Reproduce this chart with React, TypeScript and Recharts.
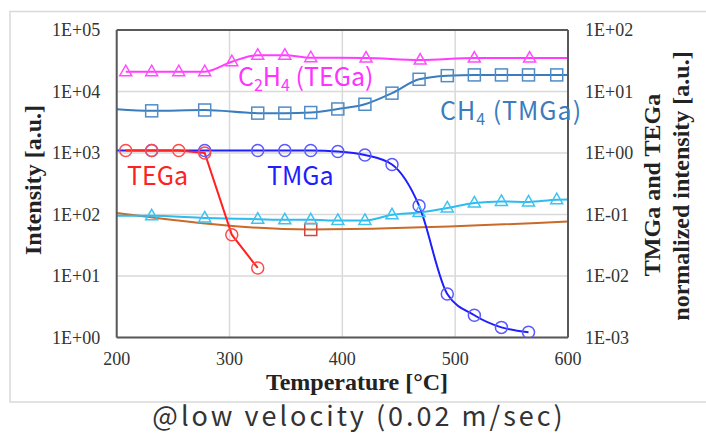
import React from 'react';
import { LineChart, Line, XAxis, YAxis, CartesianGrid, ReferenceLine } from 'recharts';

// ---- data (temperatures in °C) ----
const c2h4Temps = [208, 231, 255, 278, 302, 325, 349, 372, 421, 469, 517, 566, 600];
const c2h4Values = [21000, 21000, 21000, 21000, 30500, 39000, 39000, 35500, 35000, 32500, 35000, 35000, 35000];

const ch4Temps = [200, 231, 278, 325, 349, 372, 396, 420, 444, 468, 493, 517, 541, 565, 590, 600];
const ch4Values = [5150, 4850, 5000, 4450, 4450, 4550, 5200, 6200, 9400, 15800, 18100, 18600, 18600, 18600, 18600, 18600];

const lightTemps = [200, 231, 278, 325, 349, 372, 396, 420, 444, 468, 493, 517, 541, 565, 590, 600];
const lightValues = [95, 95, 88, 84, 82, 82, 80, 80, 99, 108, 128, 154, 163, 160, 174, 175];

const orangeTemps = [200, 372, 600];
const orangeValues = [106, 57, 77];

// normalized intensities (right axis)
const tegaTemps = [208, 231, 255, 278, 302, 325];
const tegaValues = [1.1, 1.1, 1.1, 1.0, 0.047, 0.0135];

const tmgaTemps = [200, 231, 278, 325, 349, 372, 396, 420, 444, 468, 493, 517, 541, 565];
const tmgaValues = [1.1, 1.1, 1.1, 1.1, 1.1, 1.1, 1.06, 0.93, 0.65, 0.139, 0.0051, 0.0023, 0.00146, 0.00122];

const xTicks = [200, 300, 400, 500, 600];
const leftTicks = [1, 10, 100, 1000, 10000, 100000];
const rightTicks = [0.001, 0.01, 0.1, 1, 10, 100];

const rows = (xs: number[], ys: number[]) => xs.map((t, i) => ({ t, v: ys[i] }));

const fmtE = (v: number) => {
  const e = Math.round(Math.log10(v));
  return '1E' + (e < 0 ? '-' : '+') + String(Math.abs(e)).padStart(2, '0');
};

type Shape = 'circle' | 'square' | 'triangle';

const makeDot = (shape: Shape, color: string, show: (t: number) => boolean) => (props: any) => {
  const { cx, cy, payload, index } = props;
  const key = `dot-${shape}-${color}-${index}`;
  if (cx == null || cy == null || !show(payload.t)) return <g key={key} />;
  if (shape === 'circle') {
    return <circle key={key} cx={cx} cy={cy} r={6} fill="none" stroke={color} strokeWidth={1.5} />;
  }
  if (shape === 'square') {
    return <rect key={key} x={cx - 6} y={cy - 6} width={12} height={12} fill="none" stroke={color} strokeWidth={1.5} />;
  }
  const h = 10.5;
  const w = 12;
  return (
    <path
      key={key}
      d={`M${cx},${cy - h * 0.62} L${cx + w / 2},${cy + h * 0.38} L${cx - w / 2},${cy + h * 0.38} Z`}
      fill="none"
      stroke={color}
      strokeWidth={1.5}
    />
  );
};

const inner = (t: number) => t > 200 && t < 600;

const serif = '"Liberation Serif", "Times New Roman", serif';
const sans = '"Noto Sans CJK JP", "Noto Sans", sans-serif';

export default function App() {
  const tickStyle = { fontSize: 18, fill: '#333', fontFamily: serif };
  return (
    <div style={{ position: 'fixed', left: 0, top: 0, width: 706, height: 438, background: '#fff' }}>
      <LineChart width={706} height={438} margin={{ top: 30, right: 0, bottom: 70.5, left: 0 }}>
        <CartesianGrid yAxisId="left" stroke="#d9d9d9" strokeWidth={1.5} horizontalValues={leftTicks} verticalValues={xTicks} />
        <XAxis
          dataKey="t"
          type="number"
          domain={[200, 600]}
          ticks={xTicks}
          allowDataOverflow
          height={30}
          tickLine={false}
          tickSize={0}
          tickMargin={15}
          axisLine={{ stroke: '#595959', strokeWidth: 2 }}
          tick={tickStyle}
        />
        <YAxis
          yAxisId="left"
          scale="log"
          type="number"
          domain={[1, 100000]}
          ticks={leftTicks}
          allowDataOverflow
          width={116.7}
          tickLine={false}
          tickSize={0}
          tickMargin={16.5}
          tickFormatter={fmtE}
          axisLine={{ stroke: '#595959', strokeWidth: 2 }}
          tick={tickStyle}
        />
        <YAxis
          yAxisId="right"
          orientation="right"
          scale="log"
          type="number"
          domain={[0.001, 100]}
          ticks={rightTicks}
          allowDataOverflow
          width={138}
          tickLine={false}
          tickSize={0}
          tickMargin={17}
          tickFormatter={fmtE}
          axisLine={{ stroke: '#595959', strokeWidth: 2 }}
          tick={tickStyle}
        />
        <ReferenceLine yAxisId="left" y={100000} stroke="#595959" strokeWidth={2} />

        <Line
          yAxisId="left"
          data={rows(orangeTemps, orangeValues)}
          dataKey="v"
          type="monotone"
          stroke="#c96a2a"
          strokeWidth={2}
          dot={makeDot('square', '#d0453f', (t) => t === 372)}
          isAnimationActive={false}
        />
        <Line
          yAxisId="left"
          data={rows(lightTemps, lightValues)}
          dataKey="v"
          type="monotone"
          stroke="#2ebcef"
          strokeWidth={2}
          dot={makeDot('triangle', '#3cc3f2', inner)}
          isAnimationActive={false}
        />
        <Line
          yAxisId="left"
          data={rows(ch4Temps, ch4Values)}
          dataKey="v"
          type="monotone"
          stroke="#3a7cbd"
          strokeWidth={2}
          dot={makeDot('square', '#4f8dc8', inner)}
          isAnimationActive={false}
        />
        <Line
          yAxisId="left"
          data={rows(c2h4Temps, c2h4Values)}
          dataKey="v"
          type="monotone"
          stroke="#ff3cff"
          strokeWidth={2}
          dot={makeDot('triangle', '#ff4dff', inner)}
          isAnimationActive={false}
        />
        <Line
          yAxisId="right"
          data={rows(tmgaTemps, tmgaValues)}
          dataKey="v"
          type="monotone"
          stroke="#1e1eff"
          strokeWidth={2}
          dot={makeDot('circle', '#5a5aff', inner)}
          isAnimationActive={false}
        />
        <Line
          yAxisId="right"
          data={rows(tegaTemps, tegaValues)}
          dataKey="v"
          type="linear"
          stroke="#ff2222"
          strokeWidth={2}
          dot={makeDot('circle', '#ff4a4a', () => true)}
          isAnimationActive={false}
        />
      </LineChart>

      <svg width={706} height={438} style={{ position: 'absolute', left: 0, top: 0, pointerEvents: 'none' }}>
        <rect x={10} y={11.5} width={720} height={390.5} fill="none" stroke="#d9d9d9" strokeWidth={1.5} />

        <text x={41} y={180} transform="rotate(-90 41 180)" textAnchor="middle" fontFamily={serif} fontWeight="bold" fontSize={24} fill="#222">
          Intensity [a.u.]
        </text>
        <text x={660} y={185} transform="rotate(-90 660 185)" textAnchor="middle" fontFamily={serif} fontWeight="bold" fontSize={24} fill="#222">
          TMGa and TEGa
        </text>
        <text x={689} y={186} transform="rotate(-90 689 186)" textAnchor="middle" fontFamily={serif} fontWeight="bold" fontSize={24} fill="#222">
          normalized intensity [a.u.]
        </text>
        <text x={357} y={390} textAnchor="middle" fontFamily={serif} fontWeight="bold" fontSize={24} fill="#222">
          Temperature [°C]
        </text>

        <text x={238} y={86} fontFamily={sans} fontSize={25} fill="#ff33ff">
          C<tspan fontSize={16} dy={5}>2</tspan>
          <tspan dy={-5}>H</tspan>
          <tspan fontSize={16} dy={5}>4</tspan>
          <tspan dy={-5}> (TEGa)</tspan>
        </text>
        <text x={440} y={120} fontFamily={sans} fontSize={25} letterSpacing={1} fill="#3a7cbd">
          CH<tspan fontSize={16} dy={5}>4</tspan>
          <tspan dy={-5}> (TMGa)</tspan>
        </text>
        <text x={127} y={184.5} fontFamily={sans} fontSize={25} fill="#ff2222">
          TEGa
        </text>
        <text x={267} y={184.5} fontFamily={sans} fontSize={25} fill="#1e1eff">
          TMGa
        </text>

        <text x={359} y={426} textAnchor="middle" fontFamily={sans} fontSize={27} letterSpacing={3} fill="#333">
          @low velocity (0.02 m/sec)
        </text>
      </svg>
    </div>
  );
}
